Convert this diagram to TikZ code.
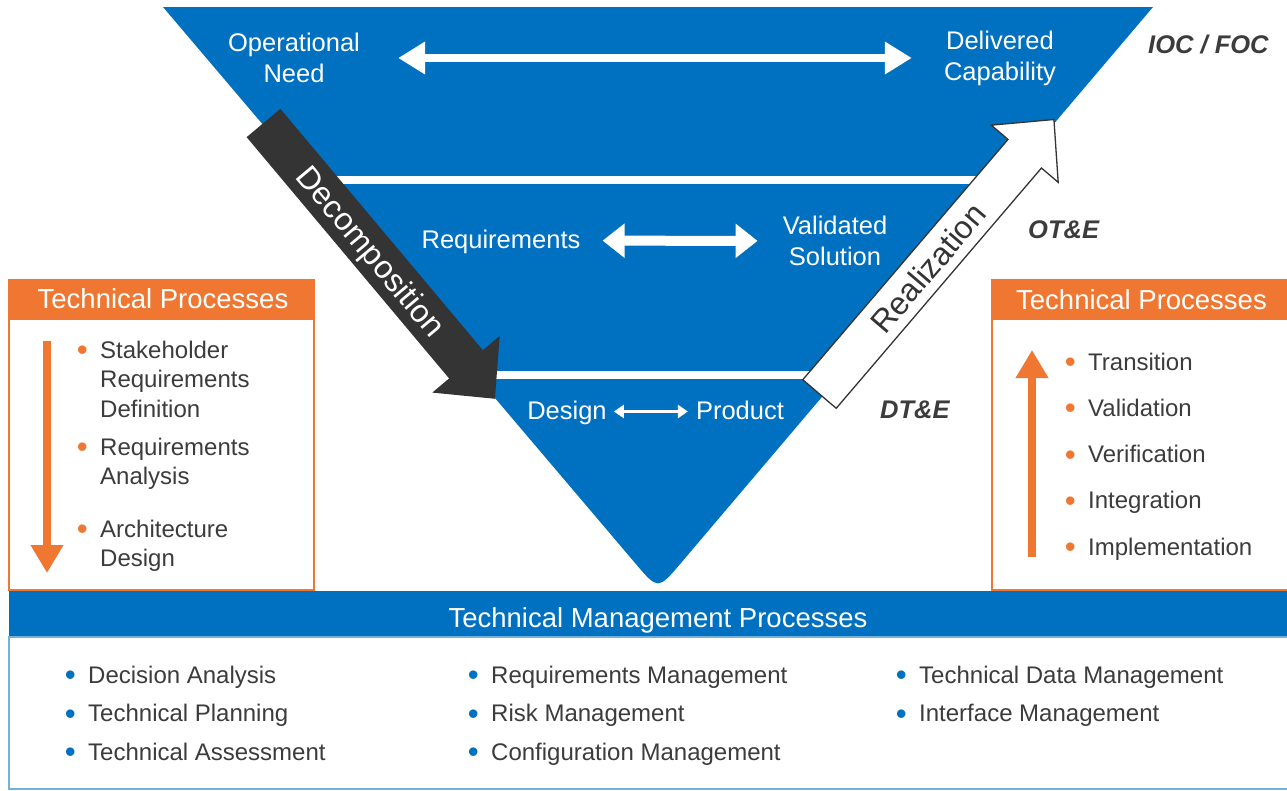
\documentclass[tikz,border=0pt]{standalone}
\usepackage{fontspec}
\setmainfont{Liberation Sans}
\usepackage{graphicx}
\usepackage{xcolor}
\usepackage{tikz}
\usetikzlibrary{arrows.meta,positioning}

\definecolor{vblue}{RGB}{0,112,192}
\definecolor{tporange}{RGB}{239,119,49}
\definecolor{darkarrow}{RGB}{52,52,52}
\definecolor{textgray}{RGB}{60,60,60}

% bullets hanging left of the item text
\newcommand{\bigbul}{\raisebox{-2.7pt}{\scalebox{1.3}{\textbullet}}}
\newcommand{\obul}{\llap{\textcolor{tporange}{\bigbul}\hspace{12.5pt}}}
\newcommand{\bbul}{\llap{\textcolor{vblue}{\bigbul}\hspace{12.5pt}}}

\begin{document}
\begin{tikzpicture}[
    x=1pt, y=-1pt,
    vtext/.style={text=white, align=center, inner sep=0pt, font=\fontsize{25.5}{31}\selectfont},
    vline/.style={vtext, text height=19pt, text depth=4pt},
    tag/.style={anchor=base west, inner sep=0pt, text=textgray, font=\fontsize{25.5}{30}\selectfont\bfseries\itshape},
    head/.style={anchor=base, inner sep=0pt, text=white, font=\fontsize{27.5}{33}\selectfont},
    item/.style={align=left, inner sep=0pt, text=textgray, font=\fontsize{24}{29.5}\selectfont},
    panel/.style={draw=tporange, line width=2pt, minimum width=305, minimum height=310},
    blockarrow/.style={font=\fontsize{32}{38}\selectfont, inner sep=0pt},
    bigarrow/.style={white, line width=8pt, {Triangle[length=27pt,width=31pt]}-{Triangle[length=27pt,width=31pt]}},
    midarrow/.style={white, line width=10pt, {Triangle[length=22pt,width=33pt]}-{Triangle[length=22pt,width=33pt]}},
    smallarrow/.style={white, line width=3pt, {Triangle[length=10pt,width=13pt]}-{Triangle[length=10pt,width=13pt]}},
    tparrow/.style={tporange, line width=8pt, -{Triangle[length=28pt,width=31pt]}}
  ]
    \useasboundingbox (0,0) rectangle (1287,790);
    \fill[white] (0,0) rectangle (1287,790);

    % the V with its three bands
    \fill[vblue] (163,7) -- (1153,7) -- (680.7,563.3) .. controls (658,590) .. (635.3,563.3) -- cycle;
    \begin{scope}
      \clip (163,7) -- (1153,7) -- (658,590) -- cycle;
      \fill[white] (150,176) rectangle (1170,184);
      \fill[white] (150,371) rectangle (1170,379);
    \end{scope}

    % decomposition / realization block arrows
    \begin{scope}[shift={(263.5,123)}, rotate=-50]
      \fill[darkarrow] (0,-22) -- (315,-22) -- (315,-44) -- (360,0) -- (315,44) -- (315,22) -- (0,22) -- cycle;
    \end{scope}
    \begin{scope}[shift={(819.5,394)}, rotate=49.5]
      \filldraw[fill=white, draw=darkarrow, line width=1.3pt] (0,-22) -- (316,-22) -- (316,-44) -- (361,0) -- (316,44) -- (316,22) -- (0,22) -- cycle;
    \end{scope}
    \node[blockarrow, rotate=-50, text=white] (decomp) at (369,253) {Decomposition};
    \node[blockarrow, rotate=49.5, text=darkarrow] (realiz) at (928,268) {Realization};

    \node[vtext] (opneed) at (294,58) {Operational\\Need};
    \node[vtext] (delcap) at (1000,58) {Delivered\\Capability};
    \node[vline] (reqs) at (501,240.5) {Requirements};
    \node[vtext] (valsol) at (835,241) {Validated\\Solution};
    \node[vline] (design) at (567,411.5) {Design};
    \node[vline] (product) at (740,411.5) {Product};

    \draw[bigarrow, shorten <=38pt, shorten >=32pt] (opneed) -- (delcap);
    \draw[midarrow, shorten <=22pt, shorten >=25pt] (reqs) -- (valsol);
    \draw[smallarrow, shorten <=7pt, shorten >=8pt] (design) -- (product);

    \node[tag] (ioc) at (1148,53) {IOC / FOC};
    \node[tag] (ote) at (1028,238) {OT\&E};
    \node[tag] (dte) at (880,418) {DT\&E};

    % technical processes, left and right
    \node[panel] (lpanel) at (161.5,435) {};
    \fill[tporange] (lpanel.north west) rectangle (314,320);
    \node[head] (lhead) at (163,308) {Technical Processes};
    \coordinate (ldtop) at (47,341);
    \coordinate (ldbot) at (47,573);
    \draw[tparrow] (ldtop) -- (ldbot);
    \node[item, anchor=north west] (stake) at (100,340.5) {\obul Stakeholder\\Requirements\\Definition};
    \node[item, anchor=north west] (reqan) at (100,437.5) {\obul Requirements\\Analysis};
    \node[item, anchor=north west] (archd) at (100,519.5) {\obul Architecture\\Design};

    \node[panel, minimum width=299] (rpanel) at (1141.5,435) {};
    \fill[tporange] (rpanel.north west) rectangle (1300,320);
    \node[head] (rhead) at (1141.5,309) {Technical Processes};
    \coordinate (rubot) at (1032,557);
    \coordinate (rutop) at (1032,350);
    \draw[tparrow] (rubot) -- (rutop);
    \foreach \n/\txt [count=\i from 0] in {trans/Transition, valid/Validation, verif/Verification, integ/Integration, impl/Implementation}
      \node[item, anchor=base west] (\n) at (1088,370+46.25*\i) {\obul\txt};

    % technical management processes
    \fill[vblue] (9,591) rectangle (1307,637);
    \draw[vblue!55, line width=1.5pt] (9,637) rectangle (1307,789);
    \node[head] (tmhead) at (658,627) {Technical Management Processes};
    \foreach \n/\x/\y/\txt in {da/88/683/Decision Analysis, tp/88/721.5/Technical Planning,
        ta/88/760/Technical Assessment, rm/491/683/Requirements Management,
        rk/491/721.5/Risk Management, cm/491/760/Configuration Management,
        td/919/683/Technical Data Management, im/919/721.5/Interface Management}
      \node[item, anchor=base west] (\n) at (\x,\y) {\bbul\txt};
  \end{tikzpicture}
\end{document}
